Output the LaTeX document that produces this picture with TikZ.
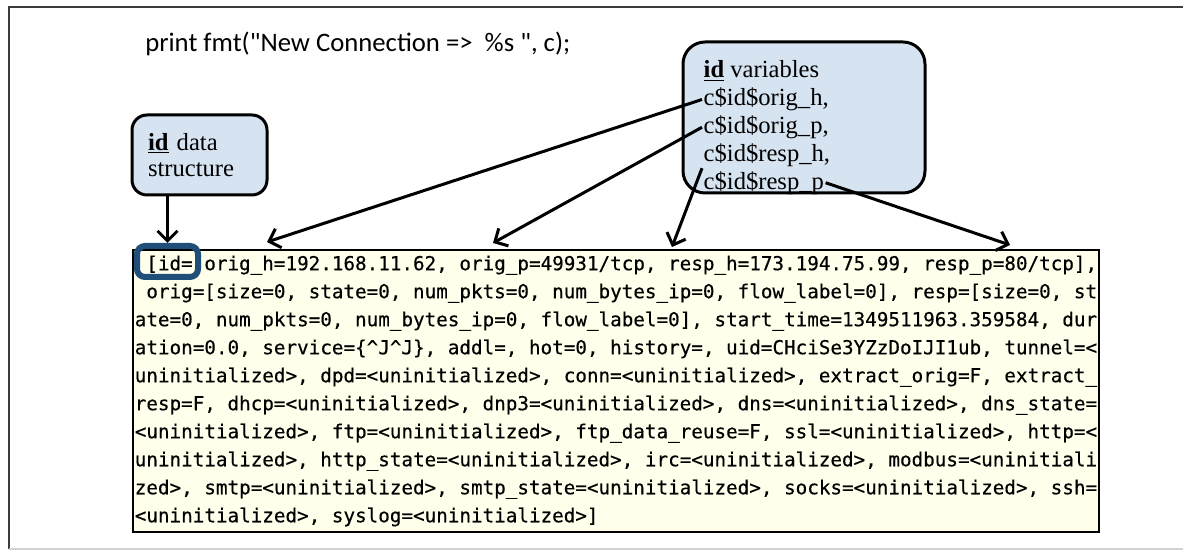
\documentclass[tikz,border=0pt]{standalone}
\usepackage{fontspec}
\setmainfont{Liberation Serif}
\newfontfamily\calfont{Carlito}
\newfontfamily\logfont[UprightFeatures={FakeBold=0.4}]{DejaVu Sans Mono}
\usetikzlibrary{arrows.meta}

\begin{document}
\begin{tikzpicture}[infobox/.style={draw=black,line width=0.075cm,fill=boxblue,rounded corners=0.375cm},
  vartext/.style={anchor=base west,inner sep=1pt,font=\fontsize{17.5}{19.7}\selectfont},
  pointer/.style={line width=0.075cm,-{Straight Barb[length=2.5mm,width=5mm]}}]
\definecolor{boxblue}{HTML}{D6E3F0}
\definecolor{logcream}{HTML}{FFFFEC}
\definecolor{idblue}{HTML}{1F4E79}
\definecolor{framegray}{HTML}{3A3A3A}
\useasboundingbox (0,0) rectangle (29.575,13.8);
\draw[framegray,line width=0.05cm] (0.225,0.075) -- (0.225,13.625) -- (29.575,13.625);
\draw[gray!35,line width=0.06cm] (0.225,0.075) -- (29.575,0.075);
\node[anchor=base west,inner sep=0,font=\calfont\fontsize{19}{23}\selectfont] (fmt) at (3.625,12.5) {print fmt("New Connection => \ \%s ", c);};
% the two boxes
\node[infobox,minimum width=3.375cm,minimum height=2cm,text width=2.575cm,inner xsep=0.4cm,align=left,font=\fontsize{17.5}{18.5}\selectfont] (ds) at (4.9875,9.925) {\underline{\textbf{id}} data\\structure};
\node[infobox,rounded corners=0.55cm,minimum width=6.05cm,minimum height=3.775cm] (vars) at (20.1,10.8625) {};
\node[vartext] (vtitle) at (17.55,11.85) {\underline{\textbf{id}} variables};
\foreach \nm/\txt [count=\i] in {vorigh/{c\$id\$orig\_h,},vorigp/{c\$id\$orig\_p,},vresph/{c\$id\$resp\_h,},vrespp/{c\$id\$resp\_p}}
  { \node[vartext] (\nm) at (17.55,11.85-0.694*\i) {\txt};}
% the printed record
\node[draw=black,line width=0.03cm,fill=logcream,minimum width=24.15cm,minimum height=7.05cm,align=left,inner sep=0,font=\logfont\fontsize{13.7}{19.92}\selectfont,text=black] (log) at (15.4,4.025)
{\ [id= orig\_h=192.168.11.62, orig\_p=49931/tcp, resp\_h=173.194.75.99, resp\_p=80/tcp],\\
\ orig=[size=0, state=0, num\_pkts=0, num\_bytes\_ip=0, flow\_label=0], resp=[size=0, st\\
ate=0, num\_pkts=0, num\_bytes\_ip=0, flow\_label=0], start\_time=1349511963.359584, dur\\
ation=0.0, service=\{\textasciicircum J\textasciicircum J\}, addl=, hot=0, history=, uid=CHciSe3YZzDoIJI1ub, tunnel=<\\
uninitialized>, dpd=<uninitialized>, conn=<uninitialized>, extract\_orig=F, extract\_\\
resp=F, dhcp=<uninitialized>, dnp3=<uninitialized>, dns=<uninitialized>, dns\_state=\\
<uninitialized>, ftp=<uninitialized>, ftp\_data\_reuse=F, ssl=<uninitialized>, http=<\\
uninitialized>, http\_state=<uninitialized>, irc=<uninitialized>, modbus=<uninitiali\\
zed>, smtp=<uninitialized>, smtp\_state=<uninitialized>, socks=<uninitialized>, ssh=\\
<uninitialized>, syslog=<uninitialized>]};
\node[draw=idblue,line width=0.15cm,rounded corners=0.2cm,minimum width=1.525cm,minimum height=0.775cm,inner sep=0] (idhl) at (4.1875,7.2625) {};
% arrows
\coordinate (torigh) at (6.675,7.75);
\coordinate (torigp) at (12.325,7.725);
\coordinate (tresph) at (16.8,7.625);
\coordinate (trespp) at (25.25,7.675);
\draw[pointer] (idhl.north |- ds.south) -- (idhl.north);
\draw[pointer] (vorigh.west) -- (torigh);
\draw[pointer] (vorigp.west) -- (torigp);
\draw[pointer] (vresph.south west) -- (tresph);
\draw[pointer] (vrespp.east) -- (trespp);
\end{tikzpicture}
\end{document}
